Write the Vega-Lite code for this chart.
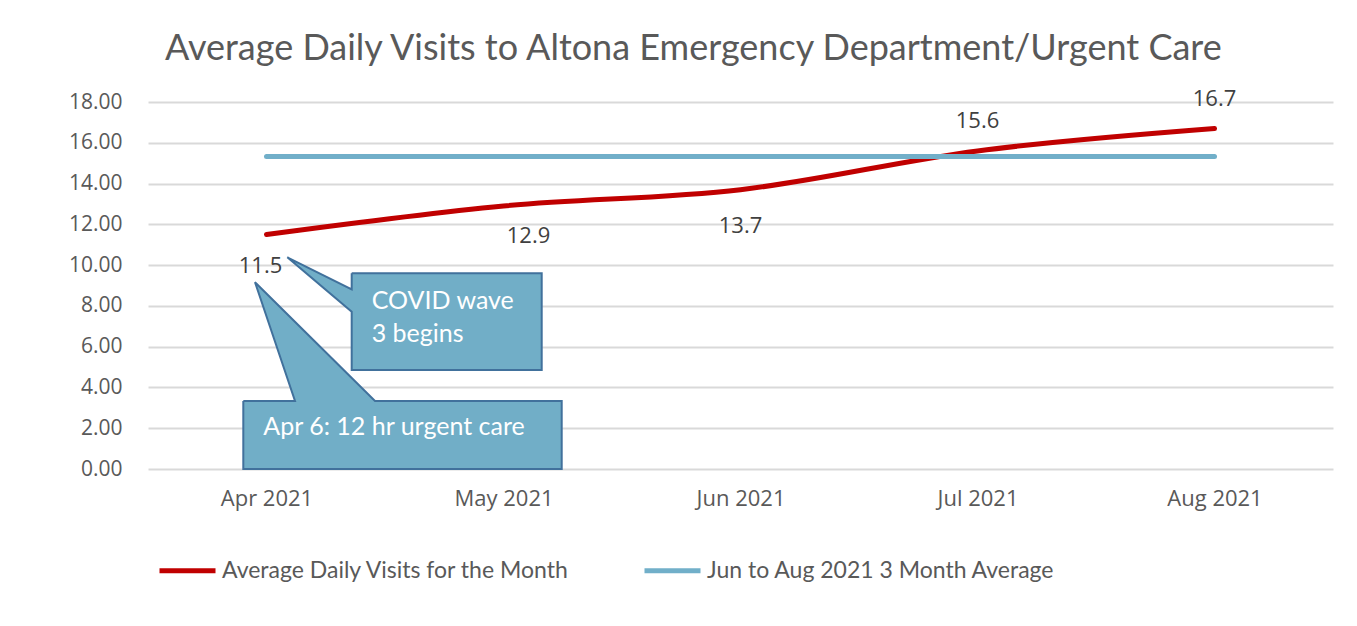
{
  "$schema": "https://vega.github.io/schema/vega-lite/v6.json",
  "width": 1185,
  "height": 367,
  "autosize": {"type": "none"},
  "padding": {"left": 148, "top": 102, "right": 24, "bottom": 157},
  "background": "white",
  "config": {"view": {"stroke": null}, "font": "Open Sans"},
  "title": {
    "text": "Average Daily Visits to Altona Emergency Department/Urgent Care",
    "font": "Lato",
    "fontSize": 36,
    "fontWeight": "normal",
    "color": "#595959",
    "anchor": "start",
    "frame": "group",
    "dx": 17,
    "offset": 20
  },
  "datasets": {
    "series": [
      {"month": "Apr 2021", "series": "Average Daily Visits for the Month", "value": 11.5},
      {"month": "May 2021", "series": "Average Daily Visits for the Month", "value": 12.9},
      {"month": "Jun 2021", "series": "Average Daily Visits for the Month", "value": 13.7},
      {"month": "Jul 2021", "series": "Average Daily Visits for the Month", "value": 15.6},
      {"month": "Aug 2021", "series": "Average Daily Visits for the Month", "value": 16.7},
      {"month": "Apr 2021", "series": "Jun to Aug 2021 3 Month Average", "value": 15.33},
      {"month": "May 2021", "series": "Jun to Aug 2021 3 Month Average", "value": 15.33},
      {"month": "Jun 2021", "series": "Jun to Aug 2021 3 Month Average", "value": 15.33},
      {"month": "Jul 2021", "series": "Jun to Aug 2021 3 Month Average", "value": 15.33},
      {"month": "Aug 2021", "series": "Jun to Aug 2021 3 Month Average", "value": 15.33}
    ],
    "callouts": [
      {"shape": "covid", "i": 1, "cx": 0.3595, "cy": 9.598},
      {"shape": "covid", "i": 2, "cx": 1.1612, "cy": 9.598},
      {"shape": "covid", "i": 3, "cx": 1.1612, "cy": 4.855},
      {"shape": "covid", "i": 4, "cx": 0.3595, "cy": 4.855},
      {"shape": "covid", "i": 5, "cx": 0.3595, "cy": 7.715},
      {"shape": "covid", "i": 6, "cx": 0.0878, "cy": 10.383},
      {"shape": "covid", "i": 7, "cx": 0.3595, "cy": 8.813},
      {"shape": "covid", "i": 8, "cx": 0.3595, "cy": 9.598},
      {"shape": "apr", "i": 1, "cx": -0.0979, "cy": 3.335},
      {"shape": "apr", "i": 2, "cx": 0.1203, "cy": 3.335},
      {"shape": "apr", "i": 3, "cx": -0.0485, "cy": 9.157},
      {"shape": "apr", "i": 4, "cx": 0.4578, "cy": 3.335},
      {"shape": "apr", "i": 5, "cx": 1.2456, "cy": 3.335},
      {"shape": "apr", "i": 6, "cx": 1.2456, "cy": 0},
      {"shape": "apr", "i": 7, "cx": -0.0979, "cy": 0},
      {"shape": "apr", "i": 8, "cx": -0.0979, "cy": 3.335}
    ],
    "notes": [
      {"note": "COVID wave\n3 begins", "nx": 0.4439, "ny": 7.832},
      {"note": "Apr 6: 12 hr urgent care", "nx": -0.0135, "ny": 1.667}
    ]
  },
  "layer": [
    {
      "layer": [
        {
          "data": {"name": "series"},
          "transform": [{"filter": "datum.series === 'Average Daily Visits for the Month'"}],
          "mark": {"type": "line", "strokeWidth": 5, "strokeCap": "round", "interpolate": "monotone"},
          "encoding": {
            "x": {
              "field": "month", "type": "ordinal", "sort": null,
              "scale": {"type": "point", "padding": 0.5},
              "axis": {"title": null, "domain": false, "ticks": false, "labelAngle": 0, "labelFont": "Open Sans", "labelFontSize": 22, "labelColor": "#595959", "labelPadding": 19, "grid": false}
            },
            "y": {
              "field": "value", "type": "quantitative",
              "scale": {"domain": [0, 18], "nice": false},
              "axis": {"title": null, "domain": false, "ticks": false, "values": [0, 2, 4, 6, 8, 10, 12, 14, 16, 18], "format": ".2f", "labelFont": "Open Sans", "labelFontSize": 21, "labelColor": "#595959", "labelPadding": 26, "gridColor": "#d9d9d9", "gridWidth": 2}
            },
            "color": {
              "field": "series", "type": "nominal",
              "scale": {"domain": ["Average Daily Visits for the Month", "Jun to Aug 2021 3 Month Average"], "range": ["#c00000", "#71afc9"]},
              "legend": {
                "title": null, "orient": "none", "legendX": 9, "legendY": 438, "direction": "horizontal",
                "symbolType": "stroke", "symbolSize": 3136, "symbolStrokeWidth": 5,
                "labelFont": "Lato", "labelFontSize": 23, "labelColor": "#595959", "labelOffset": 4,
                "columnPadding": 64, "labelLimit": 500
              }
            }
          }
        },
        {
          "data": {"name": "series"},
          "transform": [{"filter": "datum.series === 'Jun to Aug 2021 3 Month Average'"}],
          "mark": {"type": "line", "strokeWidth": 5, "strokeCap": "round"},
          "encoding": {
            "x": {"field": "month", "type": "ordinal", "sort": null},
            "y": {"field": "value", "type": "quantitative"},
            "color": {"field": "series", "type": "nominal"}
          }
        },
        {
          "data": {"name": "series"},
          "transform": [{"filter": "datum.series === 'Average Daily Visits for the Month' && datum.month === 'Apr 2021'"}],
          "mark": {"type": "text", "dy": 31, "dx": -6, "fontSize": 22, "font": "Open Sans", "color": "#404040"},
          "encoding": {
            "x": {"field": "month", "type": "ordinal", "sort": null},
            "y": {"field": "value", "type": "quantitative"},
            "text": {"field": "value", "type": "quantitative", "format": ".1f"}
          }
        },
        {
          "data": {"name": "series"},
          "transform": [{"filter": "datum.series === 'Average Daily Visits for the Month' && datum.month === 'Jun 2021'"}],
          "mark": {"type": "text", "dy": 36, "fontSize": 22, "font": "Open Sans", "color": "#404040"},
          "encoding": {
            "x": {"field": "month", "type": "ordinal", "sort": null},
            "y": {"field": "value", "type": "quantitative"},
            "text": {"field": "value", "type": "quantitative", "format": ".1f"}
          }
        },
        {
          "data": {"name": "series"},
          "transform": [{"filter": "datum.series === 'Average Daily Visits for the Month' && datum.month === 'May 2021'"}],
          "mark": {"type": "text", "dy": 30, "dx": 25, "fontSize": 22, "font": "Open Sans", "color": "#404040"},
          "encoding": {
            "x": {"field": "month", "type": "ordinal", "sort": null},
            "y": {"field": "value", "type": "quantitative"},
            "text": {"field": "value", "type": "quantitative", "format": ".1f"}
          }
        },
        {
          "data": {"name": "series"},
          "transform": [{"filter": "datum.series === 'Average Daily Visits for the Month' && (datum.month === 'Jul 2021' || datum.month === 'Aug 2021')"}],
          "mark": {"type": "text", "dy": -30, "fontSize": 22, "font": "Open Sans", "color": "#404040"},
          "encoding": {
            "x": {"field": "month", "type": "ordinal", "sort": null},
            "y": {"field": "value", "type": "quantitative"},
            "text": {"field": "value", "type": "quantitative", "format": ".1f"}
          }
        }
      ]
    },
    {
      "layer": [
        {
          "data": {"name": "callouts"},
          "mark": {"type": "line", "fill": "#71aec7", "stroke": "#41719c", "strokeWidth": 2, "interpolate": "linear"},
          "encoding": {
            "x": {"field": "cx", "type": "quantitative", "scale": {"domain": [-0.5, 4.5], "nice": false, "zero": false}, "axis": null},
            "y": {"field": "cy", "type": "quantitative"},
            "detail": {"field": "shape", "type": "nominal"},
            "order": {"field": "i", "type": "quantitative"}
          }
        },
        {
          "data": {"name": "notes"},
          "mark": {"type": "text", "align": "left", "baseline": "alphabetic", "font": "Lato", "fontSize": 25, "color": "white", "lineBreak": "\n", "lineHeight": 33},
          "encoding": {
            "x": {"field": "nx", "type": "quantitative", "axis": null},
            "y": {"field": "ny", "type": "quantitative"},
            "text": {"field": "note", "type": "nominal"}
          }
        }
      ]
    }
  ],
  "resolve": {"scale": {"x": "independent"}}
}
